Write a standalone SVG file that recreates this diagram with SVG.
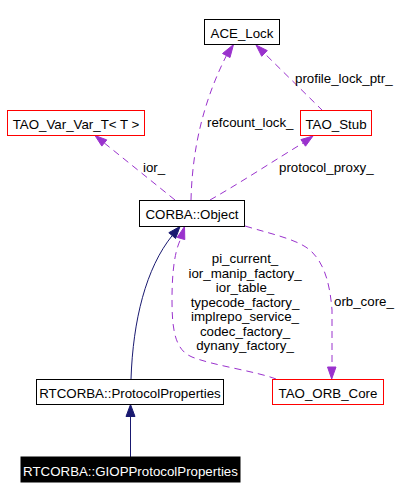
<svg xmlns="http://www.w3.org/2000/svg" width="419" height="499" viewBox="0 0 419 499">
<style>
text{font-family:"Liberation Sans",Arial,sans-serif;font-size:13.3px;fill:#000}
.nd{fill:#fff;stroke:#000;stroke-width:1}
.red{fill:#fff;stroke:#ff0000;stroke-width:1}
.blk{fill:#000;stroke:#000}
.c{text-anchor:middle}
.use{fill:none;stroke:#9a32cd;stroke-width:1;stroke-dasharray:7,5}
.useh{fill:#9a32cd;stroke:#9a32cd}
.inh{fill:none;stroke:#191970;stroke-width:1}
.inhh{fill:#191970;stroke:#191970}
</style>
<rect width="419" height="499" fill="#fff"/>
<g id="edges">
<path class="use" d="M191,200 C192,160 199,110 226.3,55.8"/>
<polygon class="useh" points="233.5,44.5 222.5,53.5 230,57.5"/>
<path class="use" d="M323,111 L264.5,53.4"/>
<polygon class="useh" points="256,45 261.7,56.3 267.3,50.6"/>
<path class="use" d="M175,200 L104.3,143"/>
<polygon class="useh" points="95,135.5 106.8,139.9 101.8,146.1"/>
<path class="use" d="M210,200 C240,183 275,160 303.2,142.9"/>
<polygon class="useh" points="313,136 300.9,139.6 305.5,146.2"/>
<path class="inh" d="M131,379 C133,320 146,268 172.2,235.6"/>
<polygon class="inhh" points="180,226.5 168.8,232.7 175.6,238.5"/>
<path class="inh" d="M130.5,457 L130.5,416.5"/>
<polygon class="inhh" points="130.5,404.5 126,416.5 135,416.5"/>
<path class="use" d="M276,379 C255,371 215,366 192,357 C175,350 172,330 172,300 C172,270 175,250 181,238.5"/>
<polygon class="useh" points="184.5,226.5 177.2,237.4 184.8,239.6"/>
<path class="use" d="M245,226 C275,235 300,240 312,252 C325,265 330,285 332,310 L332,367"/>
<polygon class="useh" points="331.7,379 327.5,367 336,367"/>
<text x="207" y="127">refcount_lock_</text>
<text x="295" y="82.5">profile_lock_ptr_</text>
<text x="143" y="172">ior_</text>
<text x="279" y="172">protocol_proxy_</text>
<text x="334" y="306">orb_core_</text>
<text class="c" x="245" y="263">pi_current_</text>
<text class="c" x="245" y="277.5">ior_manip_factory_</text>
<text class="c" x="245" y="292">ior_table_</text>
<text class="c" x="245" y="306.5">typecode_factory_</text>
<text class="c" x="245" y="321">implrepo_service_</text>
<text class="c" x="245" y="335.5">codec_factory_</text>
<text class="c" x="245" y="350">dynany_factory_</text>
</g>
<g id="ACE_Lock"><rect class="nd" x="204.5" y="19.5" width="75" height="25"/><text class="c" x="242" y="38">ACE_Lock</text></g>
<g id="TAO_Var_Var_T"><rect class="red" x="7.5" y="110.5" width="137" height="25"/><text class="c" x="76" y="129">TAO_Var_Var_T&lt; T &gt;</text></g>
<g id="TAO_Stub"><rect class="red" x="300.5" y="110.5" width="71" height="25"/><text class="c" x="336" y="129">TAO_Stub</text></g>
<g id="CORBA_Object"><rect class="nd" x="139.5" y="200.5" width="105" height="26"/><text class="c" x="192" y="218.5">CORBA::Object</text></g>
<g id="RTCORBA_ProtocolProperties"><rect class="nd" x="36.5" y="379.5" width="187" height="25"/><text class="c" x="130" y="398">RTCORBA::ProtocolProperties</text></g>
<g id="TAO_ORB_Core"><rect class="red" x="272.5" y="379.5" width="111" height="25"/><text class="c" x="328" y="398">TAO_ORB_Core</text></g>
<g id="RTCORBA_GIOPProtocolProperties"><rect class="blk" x="21" y="457" width="219" height="25"/><text class="c" x="130.5" y="475.5" style="fill:#fff">RTCORBA::GIOPProtocolProperties</text></g>
</svg>
